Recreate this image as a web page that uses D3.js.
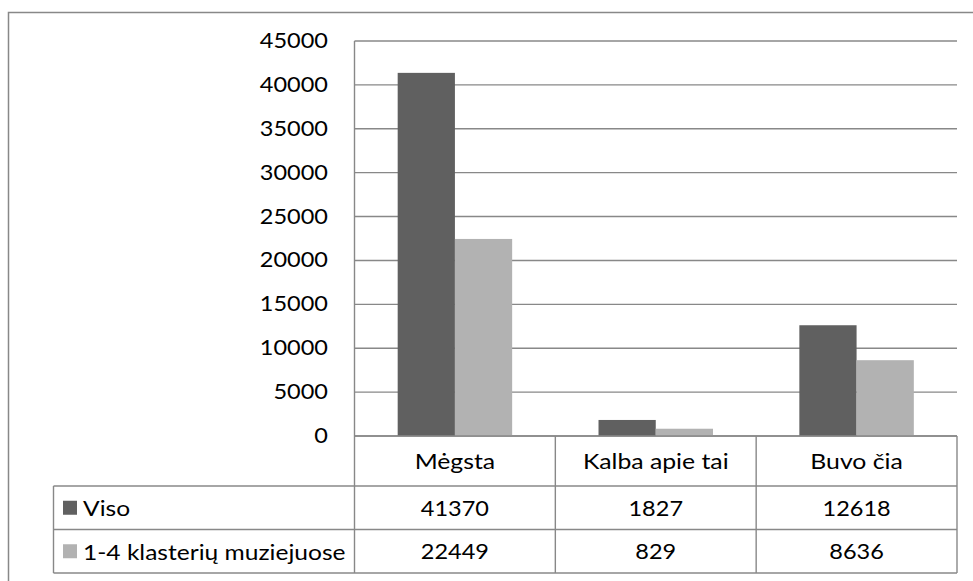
<!DOCTYPE html>
<html><head><meta charset="utf-8">
<script src="https://cdn.jsdelivr.net/npm/d3@7"></script>
<style>body{margin:0;background:#fff}svg{display:block}text{font-family:Lato,"Open Sans",sans-serif;font-size:21px;fill:#000}</style>
</head><body>
<script>
const categories = ["Mėgsta", "Kalba apie tai", "Buvo čia"];
const seriesNames = ["Viso", "1-4 klasterių muziejuose"];
const viso = [41370, 1827, 12618];
const klasteriu = [22449, 829, 8636];
const yTicks = [0, 5000, 10000, 15000, 20000, 25000, 30000, 35000, 40000, 45000];
const colors = ["#606060", "#b2b2b2"];
const seriesValues = [viso, klasteriu];

const W = 973, H = 581;
const svg = d3.select("body").append("svg").attr("width", W).attr("height", H);
const SX = 1.15;
const grid = "#888888";

function txt(g, x, y, s, anchor, sx) {
  g.append("text").attr("transform", `translate(${x},${y}) scale(${sx || SX},1)`)
    .attr("text-anchor", anchor).attr("dominant-baseline", "central").text(s);
}

// outer border
svg.append("path").attr("d", `M8.5,${H+5} V12.5 H${W+5}`).attr("fill", "none").attr("stroke", grid).attr("stroke-width", 1.5);

const plotL = 354.5, plotR = 957, yT = 41, yB = 436;
const rowH = [436, 486, 529.5, 573];
const legL = 53.5;

const x = d3.scaleBand().domain(categories).range([plotL, plotR]);
const bw = x.bandwidth();
const x1 = d3.scaleBand().domain(seriesNames).range([bw * 0.215, bw * 0.785]);
const y = d3.scaleLinear().domain([0, 45000]).range([yB, yT]);

// gridlines
svg.append("g").selectAll("line").data(yTicks).join("line")
  .attr("x1", plotL).attr("x2", plotR).attr("y1", d => y(d)).attr("y2", d => y(d))
  .attr("stroke", grid).attr("stroke-width", 1.4);

// y labels
const yl = svg.append("g");
yTicks.forEach(t => txt(yl, 328, y(t) - 1, String(t), "end", 1.12));

// bars
const bars = svg.append("g");
seriesNames.forEach((s, si) => {
  bars.selectAll(null).data(categories).join("rect")
    .attr("x", c => x(c) + x1(s)).attr("width", x1.bandwidth())
    .attr("y", (c, i) => y(seriesValues[si][i]))
    .attr("height", (c, i) => y(0) - y(seriesValues[si][i]))
    .attr("fill", colors[si]);
});

// baseline on top
svg.append("line").attr("x1", plotL).attr("x2", plotR).attr("y1", yB).attr("y2", yB).attr("stroke", grid).attr("stroke-width", 1.4);

// table lines
const tl = svg.append("g").attr("stroke", grid).attr("stroke-width", 1.4).attr("fill", "none");
tl.append("line").attr("x1", plotL).attr("x2", plotL).attr("y1", yT).attr("y2", rowH[3]);
categories.forEach(c => {
  tl.append("line").attr("x1", x(c) + bw).attr("x2", x(c) + bw).attr("y1", yB).attr("y2", rowH[3]);
});
[1, 2, 3].forEach(i => tl.append("line").attr("x1", legL).attr("x2", plotR).attr("y1", rowH[i]).attr("y2", rowH[i]));
tl.append("line").attr("x1", legL).attr("x2", legL).attr("y1", rowH[1]).attr("y2", rowH[3]);

// table text
const tt = svg.append("g");
categories.forEach(c => txt(tt, x(c) + bw / 2, (rowH[0] + rowH[1]) / 2, c, "middle", 1.18));
seriesNames.forEach((s, si) => {
  const cy = (rowH[si + 1] + rowH[si + 2]) / 2;
  tt.append("rect").attr("x", 63).attr("y", cy - 7).attr("width", 14).attr("height", 14).attr("fill", colors[si]);
  txt(tt, 83, cy, s, "start", 1.17);
  categories.forEach((c, i) => txt(tt, x(c) + bw / 2, cy, String(seriesValues[si][i]), "middle", 1.12));
});
</script>
</body></html>
